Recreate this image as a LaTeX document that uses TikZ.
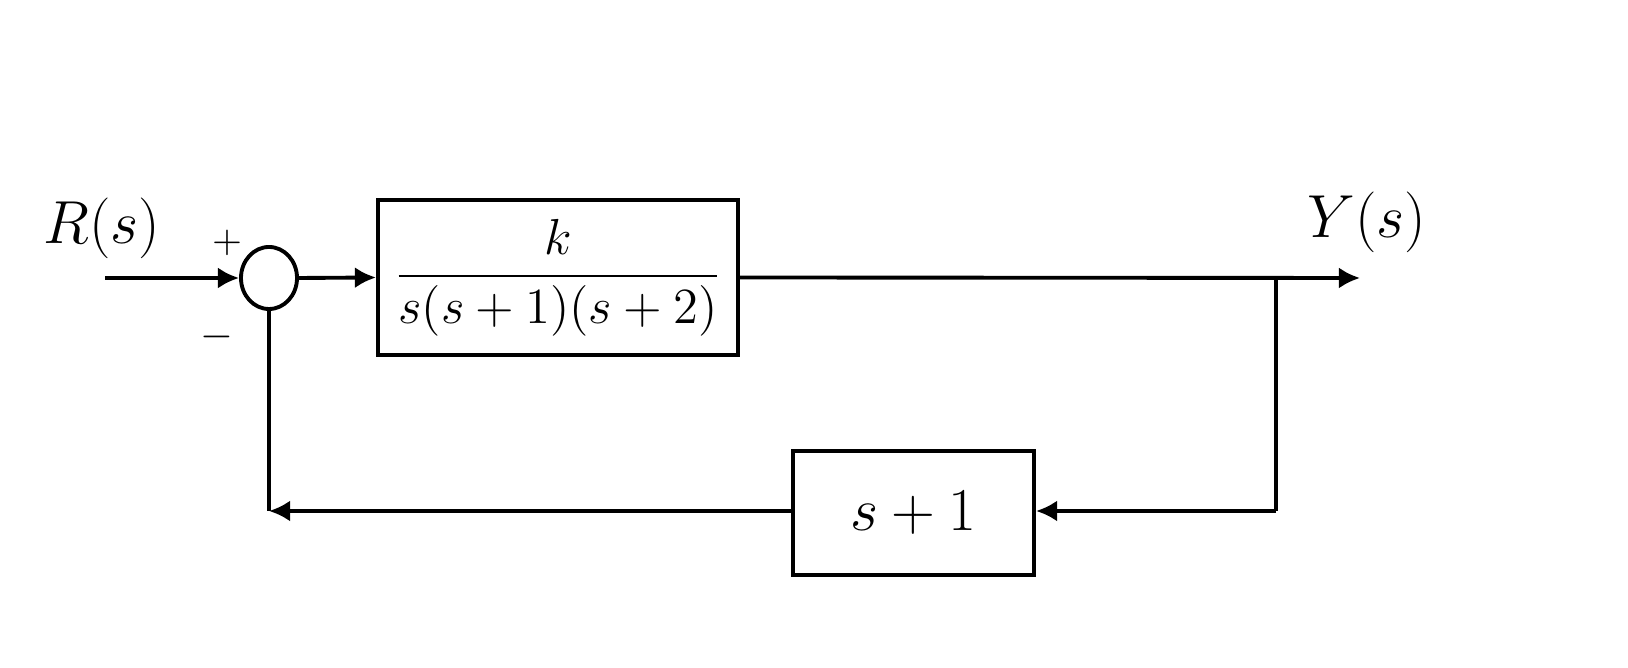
\documentclass[tikz,border=0pt]{standalone}
\usepackage{amsmath}
\usetikzlibrary{shapes.geometric, arrows.meta, positioning}
\tikzset{
    blk/.style={draw, line width=1.1pt, inner sep=0pt},
    sig/.style={line width=1.1pt, -{Latex[length=6pt,width=6pt]}},
    wire/.style={line width=1.1pt}
}
\begin{document}
\begin{tikzpicture}[x=0.01cm, y=-0.01cm]
    \useasboundingbox (0,0) rectangle (1628,668);
    % blocks
    \node[blk, ellipse, minimum width=0.56cm, minimum height=0.62cm] (sum) at (269,278) {};
    \node[blk, minimum width=3.6cm, minimum height=1.55cm] (plant) at (558,277.5)
        {\fontsize{14}{17}\selectfont $\dfrac{k}{s(s+1)(s+2)}$};
    \node[blk, minimum width=2.41cm, minimum height=1.24cm] (fb) at (913.5,513)
        {\fontsize{16}{20}\selectfont $s+1$};
    % points
    \coordinate (in) at (105,278);
    \coordinate (out) at (1360,278);
    \coordinate (br) at (1276,278);
    \coordinate (brd) at (1276,511);
    \coordinate (fbl) at (269,511);
    % labels
    \node[font=\fontsize{16}{20}\selectfont] (rlab) at (102,228) {$R(s)$};
    \node[font=\fontsize{16}{20}\selectfont] (ylab) at (1367,222) {$Y(s)$};
    \node[font=\fontsize{11}{13}\selectfont] (plus) at (227,243) {$+$};
    \node[font=\fontsize{13}{15}\selectfont] (minus) at (217,337) {$-$};
    % signals
    \draw[sig] (in) -- (sum.west);
    \draw[sig] (sum.east) -- (plant.west);
    \draw[sig] (plant.east) -- (out);
    \draw[wire] (br) -- (brd);
    \draw[sig] (brd) -- (fb.east |- brd);
    \draw[sig] (fb.west |- fbl) -- (fbl);
    \draw[wire] (fbl) -- (sum.south);
\end{tikzpicture}
\end{document}
